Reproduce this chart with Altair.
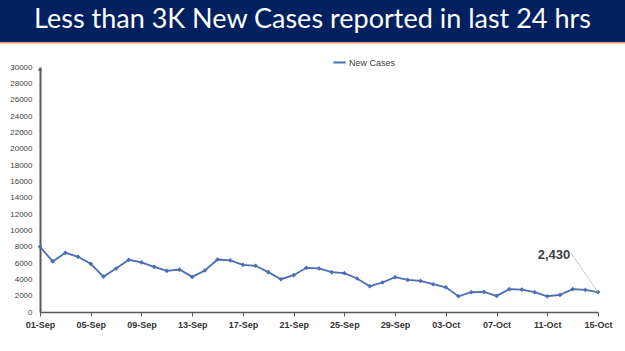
import altair as alt
import pandas as pd

title_text = "Less than 3K New Cases reported in last 24 hrs"
series_name = "New Cases"

dates = [
    "01-Sep", "02-Sep", "03-Sep", "04-Sep", "05-Sep", "06-Sep", "07-Sep", "08-Sep",
    "09-Sep", "10-Sep", "11-Sep", "12-Sep", "13-Sep", "14-Sep", "15-Sep", "16-Sep",
    "17-Sep", "18-Sep", "19-Sep", "20-Sep", "21-Sep", "22-Sep", "23-Sep", "24-Sep",
    "25-Sep", "26-Sep", "27-Sep", "28-Sep", "29-Sep", "30-Sep", "01-Oct", "02-Oct",
    "03-Oct", "04-Oct", "05-Oct", "06-Oct", "07-Oct", "08-Oct", "09-Oct", "10-Oct",
    "11-Oct", "12-Oct", "13-Oct", "14-Oct", "15-Oct",
]
new_cases = [
    7990, 6190, 7250, 6760, 5900, 4340, 5330, 6390,
    6070, 5530, 5040, 5200, 4300, 5080, 6430, 6310,
    5780, 5660, 4880, 4020, 4510, 5410, 5330, 4880,
    4750, 4100, 3160, 3610, 4260, 3930, 3810, 3400,
    3030, 1930, 2420, 2460, 1970, 2790, 2750, 2420,
    1930, 2090, 2790, 2700, 2430,
]
tick_labels = ["01-Sep", "05-Sep", "09-Sep", "13-Sep", "17-Sep", "21-Sep",
               "25-Sep", "29-Sep", "03-Oct", "07-Oct", "11-Oct", "15-Oct"]
y_ticks = list(range(0, 30001, 2000))

df = pd.DataFrame({
    "day": list(range(len(dates))),
    "date": dates,
    "cases": new_cases,
    "series": [series_name] * len(dates),
})
last_day = len(dates) - 1
tick_idx = [dates.index(t) for t in tick_labels]
label_expr = "[" + ",".join(f"'{t}'" for t in tick_labels) + "][indexof([" + \
    ",".join(str(i) for i in tick_idx) + "], datum.value)]"

BLUE = "#4a6fb5"
AXIS = "#595959"
FONT = "Liberation Sans"

x_axis = alt.Axis(values=tick_idx, labelExpr=label_expr, title=None,
                  grid=False, labelFontWeight="bold", labelFontSize=9,
                  labelColor="#333333", labelFont=FONT, labelPadding=4,
                  tickSize=4, tickColor=AXIS, domainColor=AXIS,
                  domainWidth=1.5, labelFlush=False, labelOverlap=False)
y_axis = alt.Axis(values=y_ticks, format="d", title=None, grid=False,
                  labelFontSize=8, labelColor="#404040", labelFont=FONT,
                  ticks=False, labelPadding=8, domainColor=AXIS,
                  domainWidth=2, labelOverlap=False, labelBound=False)
x_scale = alt.Scale(domain=[0, last_day], nice=False, zero=False)
y_scale = alt.Scale(domain=[0, 30000], nice=False)

x_enc = alt.X("day:Q", scale=x_scale, axis=x_axis)
y_enc = alt.Y("cases:Q", scale=y_scale, axis=y_axis)

base = alt.Chart(df)

line = base.mark_line(strokeWidth=1.8).encode(
    x=x_enc, y=y_enc,
    color=alt.Color("series:N", scale=alt.Scale(range=[BLUE]),
                    legend=alt.Legend(orient="none", legendX=292, legendY=-12,
                                      title=None, symbolType="stroke",
                                      symbolStrokeWidth=2, symbolSize=150,
                                      labelFontSize=9, labelColor="#404040",
                                      labelFont=FONT, labelOffset=2)),
)
points = base.mark_point(shape="diamond", filled=True, size=22, color=BLUE,
                         opacity=1).encode(x=x_enc, y=y_enc)

last = base.transform_filter(alt.datum.day == last_day)
ann_text = last.mark_text(dx=-44, dy=-37, fontSize=13, fontWeight="bold",
                          color="#404040", font=FONT).encode(
    x=x_enc, y=y_enc, text=alt.Text("cases:Q", format=","))
ann_rule = last.mark_rule(color="#c8c8c8", strokeWidth=1).encode(
    x=x_enc, y=y_enc, x2=alt.value(531), y2=alt.value(186))

arrow = base.transform_filter(alt.datum.day == 0).mark_point(
    shape="triangle-up", filled=True, size=18, color=AXIS, opacity=1).encode(
    x=alt.value(0), y=alt.value(2))

banner_df = pd.DataFrame({"t": [title_text]})
banner = alt.Chart(banner_df).mark_rect(color="#002060").encode(
    x=alt.value(-40), x2=alt.value(585), y=alt.value(-67), y2=alt.value(-25))
stripe = alt.Chart(banner_df).mark_rect(color="#e0a080").encode(
    x=alt.value(-40), x2=alt.value(585), y=alt.value(-25), y2=alt.value(-23.5))
title = alt.Chart(banner_df).mark_text(color="white", fontSize=27, font="Lato",
                                       align="center", baseline="middle").encode(
    x=alt.value(272.5), y=alt.value(-47), text="t:N")

chart = alt.layer(banner, stripe, title, line, points, ann_rule, ann_text, arrow).properties(
    width=558, height=245,
    padding={"left": 40, "top": 67, "right": 27, "bottom": 39},
    autosize=alt.AutoSizeParams(type="none"),
    background="white",
).configure_view(stroke=None).configure_axis(labelOverlap=False)

chart.save("out.html", embed_options={"renderer": "svg", "actions": False})
